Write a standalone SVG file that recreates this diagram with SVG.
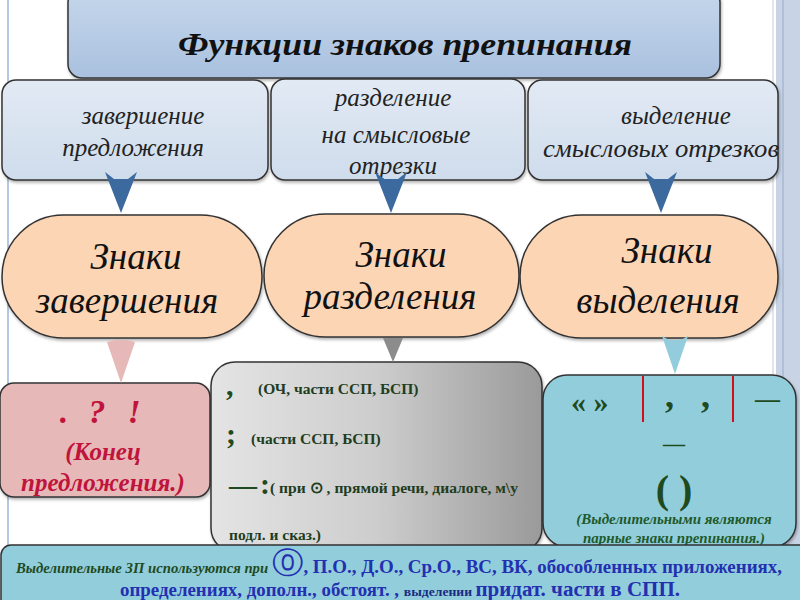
<svg xmlns="http://www.w3.org/2000/svg" width="800" height="600" viewBox="0 0 800 600">
<defs>
<linearGradient id="gTitle" x1="0" y1="0" x2="0" y2="1"><stop offset="0" stop-color="#c6d7eb"/><stop offset="1" stop-color="#a9c1df"/></linearGradient>
<linearGradient id="gTop" x1="0" y1="0" x2="0" y2="1"><stop offset="0" stop-color="#e2eaf4"/><stop offset="1" stop-color="#cfdcec"/></linearGradient>
<linearGradient id="gGray" x1="0" y1="0" x2="1" y2="0"><stop offset="0" stop-color="#e4e4e4"/><stop offset="0.5" stop-color="#cdcdcd"/><stop offset="1" stop-color="#9a9a9a"/></linearGradient>
<filter id="sh" x="-5%" y="-5%" width="110%" height="115%"><feDropShadow dx="1" dy="2" stdDeviation="1.5" flood-color="#000" flood-opacity="0.3"/></filter>
</defs>
<style>
.box{stroke:#333;stroke-width:1.5;filter:url(#sh)}
.ti{font-family:"Liberation Serif",serif;font-style:italic;font-weight:bold;font-size:31px;fill:#111}
.top{font-family:"Liberation Serif",serif;font-style:italic;font-size:25px;fill:#222;text-anchor:middle}
.ov{font-family:"Liberation Serif",serif;font-style:italic;font-size:37px;fill:#111;text-anchor:middle}
.gr{font-family:"Liberation Serif",serif;font-weight:bold;font-size:15.5px;fill:#1e3d1e}
.big{font-family:"Liberation Serif",serif;font-weight:bold;fill:#1e4a1e}
.pk{font-family:"Liberation Serif",serif;font-weight:bold;font-style:italic;fill:#c0143c;text-anchor:middle}
.it{font-family:"Liberation Serif",serif;font-weight:bold;font-style:italic;font-size:15px;fill:#1e5a2a;text-anchor:middle}
</style>
<rect width="800" height="600" fill="#fff"/>
<line x1="8" y1="0" x2="8" y2="560" stroke="#b5c7e2" stroke-width="2"/>
<rect x="776" y="0" width="24" height="600" fill="#c8d4e6"/>
<line x1="773" y1="0" x2="773" y2="600" stroke="#d8dde6" stroke-width="1.5"/>
<line x1="783" y1="0" x2="783" y2="600" stroke="#a9b8d2" stroke-width="1.5"/>

<g id="title">
<rect class="box" x="68" y="-12" width="652" height="90" rx="14" fill="url(#gTitle)"/>
<text class="ti" x="405" y="55" text-anchor="middle" textLength="454" lengthAdjust="spacingAndGlyphs">Функции знаков препинания</text>
</g>

<g id="f1">
<rect class="box" x="2" y="80" width="266" height="100" rx="14" fill="url(#gTop)"/>
<text class="top" x="143" y="124">завершение</text>
<text class="top" x="133" y="156">предложения</text>
</g>
<g id="f2">
<rect class="box" x="271" y="79" width="254" height="101" rx="14" fill="url(#gTop)"/>
<text class="top" x="393" y="106">разделение</text>
<text class="top" x="396" y="143">на смысловые</text>
<text class="top" x="393" y="174">отрезки</text>
</g>
<g id="f3">
<rect class="box" x="528" y="80" width="250" height="100" rx="14" fill="url(#gTop)"/>
<text class="top" x="676" y="124">выделение</text>
<text class="top" x="661" y="157" textLength="236" lengthAdjust="spacingAndGlyphs">смысловых отрезков</text>
</g>

<g id="s1">
<rect class="box" x="2" y="215" width="260" height="123" rx="61.5" fill="#fcd5b5"/>
<text class="ov" x="136" y="269">Знаки</text>
<text class="ov" x="127" y="313">завершения</text>
</g>
<g id="s2">
<rect class="box" x="264" y="214" width="255" height="123" rx="61.5" fill="#fcd5b5"/>
<text class="ov" x="401" y="267">Знаки</text>
<text class="ov" x="390" y="309">разделения</text>
</g>
<g id="s3">
<rect class="box" x="520" y="215" width="258" height="123" rx="61.5" fill="#fcd5b5"/>
<text class="ov" x="667" y="263">Знаки</text>
<text class="ov" x="658" y="313">выделения</text>
</g>

<g id="e1">
<rect class="box" x="0" y="383" width="210" height="114" rx="14" fill="#e6b9b8"/>
<text class="pk" x="64" y="423" font-size="34" fill="#c0102a">.</text>
<text class="pk" x="97" y="423" font-size="34" fill="#c0102a">?</text>
<text class="pk" x="134" y="423" font-size="34" fill="#c0102a">!</text>
<text class="pk" x="103" y="460" font-size="25">(Конец</text>
<text class="pk" x="103" y="491" font-size="25">предложения.)</text>
</g>

<g id="e2">
<rect class="box" x="211" y="362" width="331" height="190" rx="24" fill="url(#gGray)"/>
<text class="big" x="226" y="395" font-size="30">,</text>
<text class="gr" x="258" y="394">(ОЧ, части ССП, БСП)</text>
<text class="big" x="226" y="444" font-size="30">;</text>
<text class="gr" x="251" y="444">(части ССП, БСП)</text>
<text class="big" x="229" y="494" font-size="28">—</text>
<text class="big" x="260" y="494" font-size="30">:</text>
<text class="gr" x="270" y="493" textLength="248" lengthAdjust="spacingAndGlyphs">( при ⊙ , прямой речи, диалоге, м\у</text>
<text class="gr" x="229" y="540">подл. и сказ.)</text>
</g>

<g id="e3">
<rect class="box" x="543" y="375" width="253" height="172" rx="24" fill="#92cddc"/>
<text class="big" x="571" y="412" font-size="30">« »</text>
<line x1="643" y1="376" x2="643" y2="422" stroke="#d0101a" stroke-width="2"/>
<line x1="733" y1="376" x2="733" y2="422" stroke="#d0101a" stroke-width="2"/>
<text class="big" x="665" y="407" font-size="36">,</text>
<text class="big" x="701" y="407" font-size="36">,</text>
<text class="big" x="755" y="407" font-size="25">—</text>
<text class="big" x="663" y="451" font-size="22">—</text>
<text class="big" x="674" y="503" font-size="40" text-anchor="middle">( )</text>
<text class="it" x="674" y="524">(Выделительными являются</text>
<text class="it" x="674" y="543">парные знаки препинания.)</text>
</g>

<g id="note">
<rect class="box" x="1" y="545" width="810" height="70" rx="10" fill="#92cddc"/>
<text x="16" y="573" font-family="Liberation Serif,serif" textLength="766" lengthAdjust="spacingAndGlyphs"><tspan font-style="italic" font-weight="bold" font-size="14" fill="#1e4a1e">Выделительные ЗП используются при </tspan><tspan font-size="30" fill="#2330b0">⓪</tspan><tspan font-weight="bold" font-size="18" fill="#2330b0">, П.О., Д.О., Ср.О., ВС, ВК, обособленных  приложениях,</tspan></text>
<text x="400" y="596" text-anchor="middle" font-family="Liberation Serif,serif" fill="#2330b0" textLength="560" lengthAdjust="spacingAndGlyphs"><tspan font-weight="bold" font-size="18">определениях, дополн., обстоят. , </tspan><tspan font-weight="bold" font-size="13" fill="#1a2a80">выделении </tspan><tspan font-weight="bold" font-size="20">придат. части в СПП.</tspan></text>
</g>

<g id="connectors">
<path d="M105,172 L114,179 L128,179 L137,172 L121,213 Z" fill="#3d6a9e"/>
<path d="M375,172 L384,179 L398,179 L407,172 L391,213 Z" fill="#3d6a9e"/>
<path d="M645,172 L654,179 L668,179 L677,172 L661,213 Z" fill="#3d6a9e"/>
<path d="M107,342 L115,340 L127,340 L135,342 L121,383 Z" fill="#e6b8b7"/>
<path d="M383,338 L403,338 L393,362 Z" fill="#8c8c8c"/>
<path d="M662,336 L669,340 L681,340 L688,336 L675,374 Z" fill="#93cddd"/>
</g>
</svg>
